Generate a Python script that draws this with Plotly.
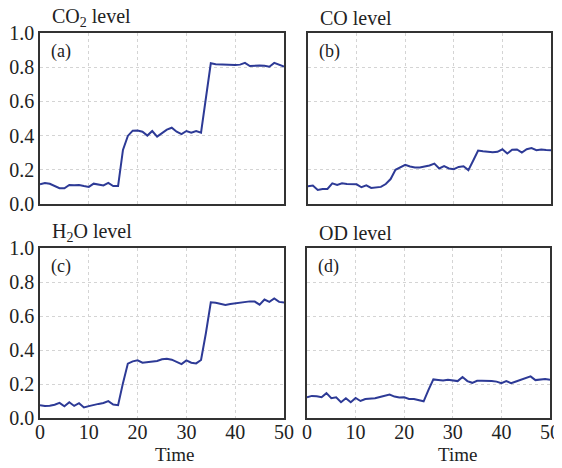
import plotly.graph_objects as go
from plotly.subplots import make_subplots

time = list(range(51))

co2 = [0.115, 0.123, 0.118, 0.105, 0.092, 0.092, 0.111, 0.109, 0.111, 0.105,
       0.100, 0.119, 0.115, 0.109, 0.123, 0.105, 0.105, 0.316, 0.398, 0.429,
       0.430, 0.423, 0.400, 0.427, 0.394, 0.415, 0.435, 0.446, 0.423, 0.409,
       0.427, 0.417, 0.427, 0.417, 0.628, 0.823, 0.817, 0.815, 0.815, 0.813,
       0.813, 0.815, 0.825, 0.807, 0.810, 0.810, 0.808, 0.803, 0.825, 0.815,
       0.803]

co = [0.103, 0.108, 0.082, 0.088, 0.088, 0.121, 0.111, 0.121, 0.117, 0.116,
      0.115, 0.098, 0.109, 0.094, 0.098, 0.100, 0.117, 0.146, 0.200, 0.217,
      0.229, 0.219, 0.213, 0.213, 0.219, 0.225, 0.236, 0.208, 0.221, 0.208,
      0.204, 0.217, 0.221, 0.198, 0.254, 0.313, 0.309, 0.305, 0.303, 0.305,
      0.320, 0.295, 0.317, 0.319, 0.301, 0.320, 0.327, 0.315, 0.319, 0.316,
      0.315]

h2o = [0.075, 0.071, 0.072, 0.078, 0.089, 0.069, 0.093, 0.071, 0.087, 0.062,
       0.070, 0.078, 0.083, 0.088, 0.099, 0.079, 0.075, 0.205, 0.320, 0.333,
       0.339, 0.325, 0.329, 0.331, 0.335, 0.345, 0.349, 0.343, 0.330, 0.317,
       0.339, 0.325, 0.321, 0.341, 0.500, 0.681, 0.678, 0.672, 0.665, 0.670,
       0.675, 0.679, 0.683, 0.686, 0.685, 0.667, 0.697, 0.683, 0.703, 0.683,
       0.679]

od = [0.122, 0.130, 0.128, 0.122, 0.146, 0.116, 0.122, 0.093, 0.116, 0.093,
      0.118, 0.100, 0.112, 0.114, 0.116, 0.124, 0.132, 0.138, 0.126, 0.120,
      0.122, 0.112, 0.112, 0.105, 0.098, 0.165, 0.227, 0.224, 0.221, 0.225,
      0.222, 0.217, 0.241, 0.217, 0.207, 0.219, 0.219, 0.219, 0.218, 0.214,
      0.205, 0.217, 0.205, 0.215, 0.225, 0.233, 0.245, 0.223, 0.225, 0.229,
      0.225]

titles = ["CO<sub>2</sub> level", "CO level", "H<sub>2</sub>O level", "OD level"]
panel_labels = ["(a)", "(b)", "(c)", "(d)"]
series = [co2, co, h2o, od]

x_ticks = [0, 10, 20, 30, 40, 50]
y_ticks = [0.0, 0.2, 0.4, 0.6, 0.8, 1.0]

# page body has an 8px margin, so the figure is drawn offset by 8px
OFF = 8
W, H = 562 - OFF, 468 - OFF
FONT = "Liberation Serif"
LINE_COLOR = "#2d3a96"
TXT = "#222222"

fig = make_subplots(rows=2, cols=2)

# pixel boxes of each panel in the page (left, right, top, bottom)
boxes = [(40, 284, 33, 204), (308, 551, 33, 204),
         (40, 284, 248, 418), (307, 550, 248, 418)]


def px(v):
    return (v - OFF) / W


def py(v):
    return 1 - (v - OFF) / H


for i, (vals, box) in enumerate(zip(series, boxes)):
    r, c = i // 2 + 1, i % 2 + 1
    fig.add_trace(go.Scatter(x=time, y=vals, mode="lines",
                             line=dict(color=LINE_COLOR, width=2),
                             showlegend=False), row=r, col=c)
    l, rr, t, b = box
    xa = "xaxis" if i == 0 else f"xaxis{i+1}"
    ya = "yaxis" if i == 0 else f"yaxis{i+1}"
    fig.layout[xa].update(domain=[px(l), px(rr)], range=[0, 50],
                          tickvals=x_ticks, showticklabels=(r == 2),
                          showgrid=True, gridcolor="#d4d4d4", griddash="dot",
                          gridwidth=1, zeroline=False, automargin=False,
                          showline=True, mirror=True, linecolor="#333333",
                          linewidth=1.5, ticks="", ticklabelstandoff=-5,
                          tickfont=dict(family=FONT, size=20, color=TXT))
    fig.layout[ya].update(domain=[py(b), py(t)], range=[0, 1],
                          tickvals=y_ticks, tickformat=".1f",
                          showticklabels=(c == 1),
                          showgrid=True, gridcolor="#d4d4d4", griddash="dot",
                          gridwidth=1, zeroline=False, automargin=False,
                          showline=True, mirror=True, linecolor="#333333",
                          linewidth=1.5, ticks="",
                          tickfont=dict(family=FONT, size=20, color=TXT))
    # title above panel
    fig.add_annotation(text=titles[i], xref="paper", yref="paper",
                       x=px(l + 10), y=py(t - 15), xanchor="left",
                       yanchor="middle", showarrow=False,
                       font=dict(family=FONT, size=20, color=TXT))
    # panel label inside
    fig.add_annotation(text=panel_labels[i], xref="paper", yref="paper",
                       x=px(l + 9), y=py(t + 18), xanchor="left",
                       yanchor="middle", showarrow=False,
                       font=dict(family=FONT, size=18, color=TXT))

# x-axis titles
for cx in (174, 457):
    fig.add_annotation(text="Time", xref="paper", yref="paper",
                       x=px(cx), y=py(454), xanchor="center",
                       yanchor="middle", showarrow=False,
                       font=dict(family=FONT, size=19, color=TXT))

fig.update_layout(width=W, height=H, margin=dict(l=0, r=0, t=0, b=0),
                  paper_bgcolor="white", plot_bgcolor="white",
                  font=dict(family=FONT))

fig.write_html("out.html")
